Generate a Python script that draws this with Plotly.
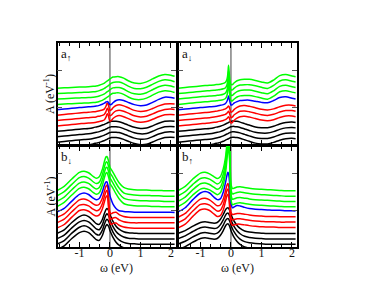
import plotly.graph_objects as go

# energy grid (eV)
omega = [-1.75, -1.5, -1.25, -1.0, -0.85, -0.7, -0.55, -0.45, -0.35, -0.25, -0.18, -0.13, -0.1, -0.08, -0.06,
         -0.03, 0.0, 0.05, 0.1, 0.2, 0.3, 0.45, 0.6, 0.8, 1.0, 1.2, 1.4, 1.6, 1.8, 2.0, 2.12]

# vertical offsets of the 12 stacked curves (bottom to top)
offsets = [-0.07, 0.075, 0.22, 0.365, 0.51, 0.655, 0.80, 0.945, 1.09, 1.235, 1.38, 1.525]
groups = ["black", "black", "black", "black", "red", "red", "red", "blue", "green", "green", "green", "green"]

# panel a_up
a_up_black = [0, .02, .04, .06, .07, .08, .10, .12, .14, .17, .19, .21, .22, .23, .24, .25, .26, .27, .27, .27, .26, .22, .17, .11, .08, .09, .15, .22, .27, .28, .27]
a_up_red = [0, .02, .04, .06, .07, .08, .09, .10, .12, .14, .17, .24, .31, .33, .30, .20, .13, .15, .20, .26, .28, .25, .20, .13, .10, .12, .18, .25, .30, .31, .30]
a_up_blue = [0, .02, .04, .06, .07, .08, .09, .10, .12, .15, .18, .21, .22, .22, .21, .17, .14, .15, .19, .25, .27, .25, .20, .14, .11, .13, .20, .28, .34, .33, .31]
a_up_green = [0, .01, .02, .03, .035, .04, .05, .06, .08, .11, .14, .17, .19, .20, .21, .23, .25, .28, .30, .31, .31, .27, .20, .14, .13, .17, .25, .33, .37, .35, .32]

# panel a_down
a_dn_black = [0, .02, .04, .06, .07, .08, .10, .12, .14, .17, .20, .22, .23, .24, .25, .26, .27, .28, .28, .27, .25, .21, .17, .12, .10, .10, .14, .20, .24, .25, .24]
a_dn_red = [0, .02, .04, .06, .07, .08, .10, .11, .13, .15, .17, .20, .23, .25, .23, .15, .08, .10, .15, .21, .25, .26, .24, .20, .16, .14, .17, .23, .27, .27, .25]
a_dn_blue = [0, .02, .04, .06, .07, .08, .09, .10, .12, .14, .17, .23, .30, .37, .32, .20, .13, .14, .18, .22, .25, .26, .26, .23, .20, .19, .25, .33, .35, .31, .29]
a_dn_green = [0, .02, .04, .06, .07, .08, .09, .10, .11, .13, .16, .24, .40, .62, .45, .20, .10, .10, .14, .20, .23, .24, .24, .21, .17, .14, .22, .34, .37, .33, .31]

# panel b_down
b_dn_black = [0, .10, .30, .46, .50, .46, .35, .27, .25, .38, .55, .65, .68, .67, .65, .60, .52, .42, .33, .20, .12, .05, .02, .01, 0, 0, 0, 0, 0, 0, 0]
b_dn_red = [0, .10, .30, .48, .50, .46, .37, .33, .36, .52, .72, .85, .88, .85, .70, .35, .15, .10, .13, .14, .08, .03, .01, 0, 0, 0, 0, 0, 0, 0, 0]
b_dn_blue = [0, .10, .30, .48, .52, .48, .38, .34, .37, .55, .74, .82, .82, .78, .72, .60, .45, .32, .22, .10, .04, .02, .01, 0, 0, 0, 0, 0, 0, 0, -.01]
b_dn_green = [0, .12, .32, .50, .53, .49, .39, .34, .38, .58, .80, .92, .93, .90, .85, .76, .64, .57, .50, .35, .22, .09, .05, .03, .02, .02, .01, .01, 0, 0, 0]

# panel b_up
b_up_black = [0, .08, .20, .30, .32, .30, .28, .30, .38, .52, .64, .69, .70, .69, .66, .60, .52, .42, .34, .22, .14, .07, .04, .02, .01, 0, 0, 0, 0, 0, 0]
b_up_red = [0, .11, .32, .50, .52, .48, .38, .32, .34, .50, .72, .88, .92, .88, .75, .40, .15, .08, .09, .11, .11, .09, .07, .05, .04, .03, .03, .02, .02, .02, .02]
b_up_blue = [0, .12, .34, .52, .56, .52, .40, .34, .36, .55, .80, 1.0, 1.08, 1.05, .95, .60, .25, .12, .14, .18, .17, .13, .10, .08, .07, .06, .05, .05, .04, .04, .03]
b_up_green = [0, .12, .32, .48, .50, .46, .38, .33, .38, .60, .90, 1.3, 1.55, 1.6, 1.45, 1.0, .20, .06, .07, .10, .11, .09, .07, .05, .04, .03, .02, .01, 0, 0, 0]

panel_labels = ["a<sub>↑</sub>", "a<sub>↓</sub>", "b<sub>↓</sub>", "b<sub>↑</sub>"]
x_ticks = [-1, 0, 1, 2]
x_tick_text = ["-1", "0", "1", "2"]

panels = [
    {"black": a_up_black, "red": a_up_red, "blue": a_up_blue, "green": a_up_green},
    {"black": a_dn_black, "red": a_dn_red, "blue": a_dn_blue, "green": a_dn_green},
    {"black": b_dn_black, "red": b_dn_red, "blue": b_dn_blue, "green": b_dn_green},
    {"black": b_up_black, "red": b_up_red, "blue": b_up_blue, "green": b_up_green},
]

W, H = 376, 291
color_map = {"black": "#000000", "red": "#ff0000", "blue": "#0000ff", "green": "#00ff00"}

fig = go.Figure()
for p, shapes in enumerate(panels):
    ax = "" if p == 0 else str(p + 1)
    for i, g in enumerate(groups):
        fig.add_trace(go.Scatter(
            x=omega, y=[offsets[i] + v for v in shapes[g]],
            mode="lines", line=dict(color=color_map[g], width=1.5, shape="spline", smoothing=0.8),
            xaxis="x" + ax, yaxis="y" + ax, showlegend=False, hoverinfo="skip"))

xdom = [[57.5 / W, 175.5 / W], [178.5 / W, 296.5 / W]]
ydom = [[1 - 145 / H, 1 - 43 / H], [1 - 247 / H, 1 - 146 / H]]
xr = [-1.72, 2.15]
yr = [0, 2.74]
minor_x = [k / 3 for k in range(-5, 7)]
font = dict(family="Liberation Serif, Times New Roman, serif", size=12, color="#111")

layout = dict(width=W, height=H, margin=dict(l=0, r=0, t=0, b=0),
              paper_bgcolor="white", plot_bgcolor="white", font=font, showlegend=False)
shapes_list = []
annotations = []
for p in range(4):
    ax = "" if p == 0 else str(p + 1)
    col, row = p % 2, p // 2
    layout["xaxis" + ax] = dict(
        domain=xdom[col], range=xr, anchor="y" + ax, showgrid=False, zeroline=False,
        showline=True, linecolor="black", linewidth=1.5, mirror="ticks",
        ticks="inside", ticklen=5, tickwidth=1, tickcolor="black",
        tickmode="array", tickvals=x_ticks, ticktext=x_tick_text, ticklabelstandoff=-6,
        showticklabels=(row == 1), tickfont=dict(size=12, family=font["family"], color="#111"),
        minor=dict(tickmode="array", tickvals=minor_x, ticks="inside", ticklen=3, tickcolor="black"))
    layout["yaxis" + ax] = dict(
        domain=ydom[row], range=yr, anchor="x" + ax, showgrid=False, zeroline=False,
        showline=True, linecolor="black", linewidth=1.5, mirror="ticks",
        ticks="inside", ticklen=5, tickwidth=1, tickcolor="#555",
        tickmode="array", tickvals=[0, 1, 2], showticklabels=False)
    shapes_list.append(dict(type="line", xref="x" + ax, yref="y" + ax, x0=0, x1=0, y0=yr[0], y1=yr[1],
                            line=dict(color="#808080", width=1.5), layer="below"))
    annotations.append(dict(text=panel_labels[p], xref="paper", yref="paper",
                            x=(xdom[col][0] * W + 1) / W, y=ydom[row][1] - 1 / H,
                            xanchor="left", yanchor="top", showarrow=False,
                            font=dict(size=13, family=font["family"], color="#111")))
    if col == 0:
        annotations.append(dict(text="A (eV<sup>-1</sup>)", xref="paper", yref="paper",
                                x=50 / W, y=sum(ydom[row]) / 2, textangle=-90,
                                xanchor="center", yanchor="middle", showarrow=False,
                                font=dict(size=12, family=font["family"], color="#111")))
    if row == 1:
        annotations.append(dict(text="ω (eV)", xref="paper", yref="paper",
                                x=sum(xdom[col]) / 2, y=1 - 268 / H,
                                xanchor="center", yanchor="middle", showarrow=False,
                                font=dict(size=12, family=font["family"], color="#111")))
layout["shapes"] = shapes_list
layout["annotations"] = annotations
fig.update_layout(**layout)
fig.write_html("out.html", config={"displayModeBar": False},
               post_script="document.body.style.margin='0';document.body.style.padding='0';")
